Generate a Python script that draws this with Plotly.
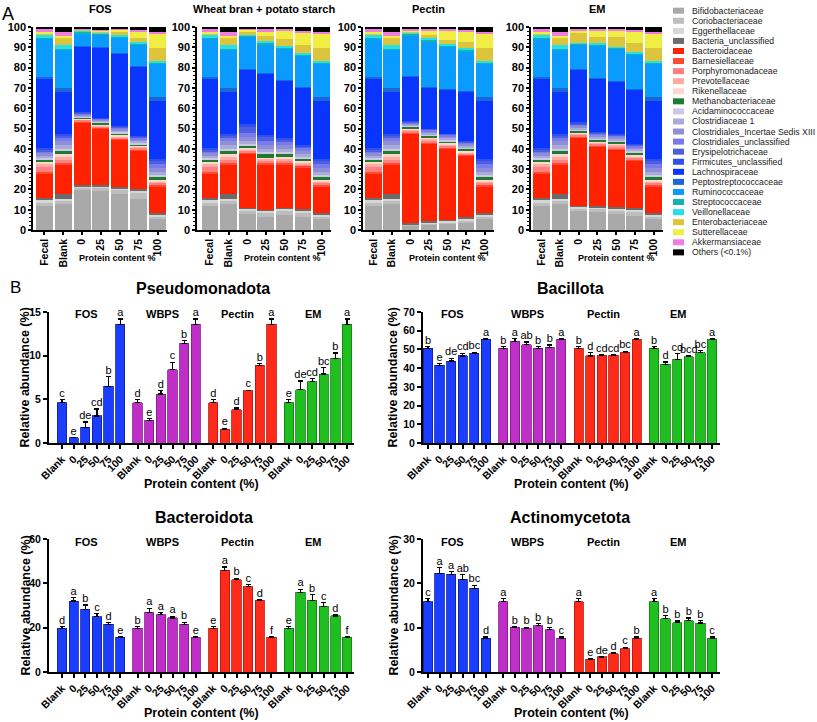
import plotly.graph_objects as go

W, H = 817, 722
FONT = "Liberation Sans, Arial, sans-serif"

# ---------------- Panel A data ----------------
FAMILIES = [
    "Bifidobacteriaceae", "Coriobacteriaceae", "Eggerthellaceae", "Bacteria_unclassified",
    "Bacteroidaceae", "Barnesiellaceae", "Porphyromonadaceae", "Prevotellaceae",
    "Rikenellaceae", "Methanobacteriaceae", "Acidaminococcaceae", "Clostridiaceae 1",
    "Clostridiales_Incertae Sedis XIII", "Clostridiales_unclassified", "Erysipelotrichaceae",
    "Firmicutes_unclassified", "Lachnospiraceae", "Peptostreptococcaceae", "Ruminococcaceae",
    "Streptococcaceae", "Veillonellaceae", "Enterobacteriaceae", "Sutterellaceae",
    "Akkermansiaceae", "Others (<0.1%)",
]
FAMILY_COLORS = [
    "#a9a9a9", "#bdbdbd", "#d6d6d6", "#6b6b6b",
    "#ff2200", "#ff4a33", "#ff8080", "#ffaba0",
    "#ffd6cc", "#1e7b2e", "#c9c9e6", "#aaaadc",
    "#8f8fd6", "#7a7af0", "#4d5fdc", "#3050ee",
    "#0a35ff", "#1b67d8", "#0a9bff", "#12b3b0",
    "#25e0e6", "#dcc43c", "#f0ee44", "#f07ee0", "#000000",
]
A_CATEGORIES = ["Fecal", "Blank", "0", "25", "50", "75", "100"]
A_TITLES = ["FOS", "Wheat bran + potato starch", "Pectin", "EM"]

FECAL = [12.0, 1.5, 1.3, 1.0, 12.2, 0.5, 2.3, 1.7, 1.0, 0.8, 1.0, 1.2, 1.3, 1.0, 0.8, 0.6,
         34.3, 0.8, 18.9, 0.5, 1.6, 0.4, 0.8, 1.3, 1.2]
BLANK = [12.8, 1.5, 1.0, 2.3, 14.8, 0.6, 1.7, 1.3, 1.2, 1.6, 1.2, 1.8, 2.0, 1.6, 1.0, 0.8,
         20.8, 1.8, 19.2, 0.4, 1.6, 3.5, 1.3, 1.8, 2.4]
P100 = [5.5, 1.2, 0.8, 1.0, 13.0, 0.5, 1.2, 0.8, 0.7, 1.8, 0.8, 1.5, 1.8, 1.7, 1.5, 1.2,
        28.5, 2.0, 16.5, 0.3, 1.2, 6.0, 7.5, 0.7, 2.3]
FOS_0 = [19.5, 1.2, 0.8, 0.5, 31.0, 0.4, 0.8, 0.4, 0.3, 0.6, 0.5, 0.6, 0.5, 0.4, 0.3, 0.2,
         32.5, 0.3, 6.2, 0.3, 1.2, 0.2, 0.3, 0.3, 0.7]
FOS_25 = [19.0, 1.5, 1.0, 0.5, 28.0, 0.4, 0.8, 0.4, 0.3, 0.9, 0.5, 0.5, 0.5, 0.4, 0.2, 0.1,
          35.0, 0.3, 6.2, 0.3, 0.7, 0.3, 0.5, 0.4, 1.3]
FOS_50 = [17.5, 2.0, 1.0, 0.5, 23.5, 0.4, 0.9, 0.5, 0.4, 1.0, 0.6, 0.8, 0.8, 0.6, 0.3, 0.2,
          36.0, 0.3, 7.7, 0.3, 0.7, 1.5, 1.5, 0.2, 0.8]
FOS_75 = [15.5, 2.5, 1.5, 0.5, 19.0, 0.4, 1.0, 0.6, 0.5, 0.8, 0.6, 0.9, 1.0, 0.8, 0.5, 0.4,
          34.0, 0.5, 10.5, 0.3, 0.7, 2.0, 3.5, 0.4, 1.6]
WBPS_0 = [8.0, 1.5, 1.0, 0.5, 26.5, 0.5, 1.0, 0.6, 0.6, 1.3, 1.0, 1.5, 2.0, 2.0, 2.5, 1.5,
          27.0, 0.5, 16.0, 0.3, 0.5, 1.0, 1.5, 0.2, 1.0]
WBPS_25 = [6.5, 2.0, 1.0, 0.5, 22.5, 0.5, 1.2, 0.8, 0.7, 1.5, 1.0, 1.5, 2.0, 2.0, 2.0, 1.3,
           30.0, 0.5, 14.0, 0.7, 0.8, 2.5, 2.5, 0.8, 1.2]
WBPS_50 = [7.5, 2.0, 1.0, 0.5, 21.5, 0.5, 1.2, 0.9, 0.7, 1.7, 1.0, 1.5, 1.8, 1.5, 1.3, 0.9,
           28.0, 0.5, 15.5, 0.3, 0.7, 3.5, 4.5, 0.3, 1.2]
WBPS_75 = [6.5, 2.0, 1.0, 0.7, 20.8, 0.5, 1.0, 0.6, 0.7, 1.5, 0.9, 1.3, 1.5, 1.3, 1.0, 0.7,
           28.0, 0.5, 15.5, 0.3, 0.7, 4.0, 6.5, 0.7, 1.8]
PECTIN_0 = [2.0, 0.5, 0.3, 0.5, 44.2, 0.5, 0.9, 0.5, 0.4, 1.0, 0.6, 0.6, 0.5, 0.5, 0.3, 0.2,
            22.0, 0.5, 20.0, 0.6, 0.6, 0.5, 0.8, 0.5, 1.0]
PECTIN_25 = [2.5, 0.6, 0.4, 0.8, 38.2, 0.5, 1.2, 0.7, 0.6, 1.0, 0.6, 0.8, 0.8, 0.7, 0.4, 0.2,
             20.0, 0.5, 22.5, 0.5, 1.0, 1.5, 2.5, 0.5, 1.0]
PECTIN_50 = [3.0, 0.9, 0.6, 0.5, 35.0, 0.5, 1.0, 0.6, 0.6, 1.1, 0.7, 0.9, 0.8, 0.7, 0.4, 0.2,
             21.5, 0.5, 21.0, 0.5, 0.8, 1.7, 5.0, 0.5, 1.0]
PECTIN_75 = [3.5, 1.2, 0.8, 0.7, 30.3, 0.5, 0.9, 0.5, 0.5, 1.1, 0.7, 0.9, 0.9, 0.8, 0.4, 0.3,
             24.0, 0.5, 19.5, 0.5, 1.0, 3.0, 5.5, 0.5, 1.5]
EM_0 = [9.5, 1.2, 0.8, 0.5, 33.5, 0.5, 1.0, 0.5, 0.5, 1.0, 0.7, 0.9, 0.9, 0.7, 0.5, 0.3,
        26.0, 0.5, 12.0, 0.3, 0.5, 4.7, 1.5, 0.5, 1.0]
EM_25 = [9.0, 1.3, 1.0, 0.7, 29.0, 0.5, 1.0, 0.6, 0.7, 0.7, 0.7, 0.9, 0.9, 0.7, 0.5, 0.3,
         26.0, 0.5, 16.0, 0.3, 0.7, 3.0, 3.5, 0.5, 1.0]
EM_50 = [8.0, 1.5, 1.0, 0.8, 28.2, 0.5, 1.2, 0.7, 0.6, 1.0, 0.7, 0.9, 0.9, 0.7, 0.5, 0.3,
         25.5, 0.5, 16.0, 0.3, 0.5, 4.7, 3.5, 0.5, 1.0]
EM_75 = [7.0, 2.0, 1.3, 0.7, 23.0, 0.5, 1.2, 0.6, 0.7, 1.0, 0.8, 1.0, 1.0, 0.8, 0.5, 0.4,
         26.5, 0.5, 17.0, 0.3, 0.7, 4.5, 6.0, 0.5, 1.5]

A_PANELS = [
    [FECAL, BLANK, FOS_0, FOS_25, FOS_50, FOS_75, P100],
    [FECAL, BLANK, WBPS_0, WBPS_25, WBPS_50, WBPS_75, P100],
    [FECAL, BLANK, PECTIN_0, PECTIN_25, PECTIN_50, PECTIN_75, P100],
    [FECAL, BLANK, EM_0, EM_25, EM_50, EM_75, P100],
]

# ---------------- Panel B data ----------------
B_LEVELS = ["Blank", "0", "25", "50", "75", "100"]
B_GROUPS = ["FOS", "WBPS", "Pectin", "EM"]
B_GROUP_COLORS = ["#1a3dff", "#bf2fc7", "#ff2a1a", "#1fbf1f"]
B_GROUP_EDGES = ["#0b1f9e", "#7e1b85", "#b3170b", "#0f7d0f"]

PSEUDO_MEAN = [[4.6, 0.6, 1.8, 3.1, 6.5, 13.6],
               [4.6, 2.6, 5.6, 8.4, 11.4, 13.6],
               [4.6, 1.6, 3.8, 6.0, 8.9, 13.6],
               [4.6, 6.1, 7.0, 7.9, 9.7, 13.6]]
PSEUDO_ERR = [[0.4, 0.05, 0.6, 0.8, 1.1, 0.6],
              [0.4, 0.2, 0.4, 0.85, 0.35, 0.6],
              [0.4, 0.1, 0.2, 0.05, 0.2, 0.6],
              [0.4, 1.0, 0.4, 0.7, 0.6, 0.6]]
PSEUDO_SIG = [["c", "e", "de", "cd", "b", "a"],
              ["d", "e", "d", "c", "b", "a"],
              ["d", "e", "d", "c", "b", "a"],
              ["e", "de", "cd", "bc", "b", "a"]]

BACILL_MEAN = [[50.5, 41.5, 43.8, 46.5, 48.0, 55.5],
               [50.5, 54.3, 52.5, 50.7, 51.1, 55.5],
               [50.5, 46.5, 47.0, 47.0, 48.6, 55.5],
               [50.5, 42.0, 44.7, 46.1, 48.2, 55.5]]
BACILL_ERR = [[1.0, 0.8, 1.5, 1.5, 0.5, 0.4],
              [1.0, 1.5, 1.5, 1.0, 1.3, 0.4],
              [1.0, 1.8, 0.4, 0.4, 0.5, 0.4],
              [1.0, 1.3, 3.0, 0.5, 1.3, 0.4]]
BACILL_SIG = [["b", "e", "de", "cd", "bc", "a"],
              ["b", "a", "ab", "b", "b", "a"],
              ["b", "d", "cd", "cd", "bc", "a"],
              ["b", "d", "cd", "bcd", "bc", "a"]]

BACTER_MEAN = [[19.8, 32.0, 28.2, 25.0, 21.6, 15.7],
               [19.8, 27.0, 25.8, 24.4, 21.6, 15.7],
               [19.8, 45.9, 41.6, 38.5, 32.3, 15.7],
               [19.8, 35.9, 32.4, 29.7, 25.3, 15.7]]
BACTER_ERR = [[0.6, 1.5, 2.0, 1.3, 0.8, 0.2],
              [0.6, 1.8, 0.9, 0.8, 0.9, 0.2],
              [0.6, 1.5, 0.7, 0.8, 0.3, 0.2],
              [0.6, 1.5, 2.5, 1.5, 0.7, 0.2]]
BACTER_SIG = [["d", "a", "b", "c", "d", "e"],
              ["b", "a", "a", "a", "b", "e"],
              ["e", "a", "b", "c", "d", "f"],
              ["e", "a", "b", "c", "d", "f"]]

ACTINO_MEAN = [[15.9, 22.3, 22.0, 20.9, 18.9, 7.6],
               [15.9, 10.15, 9.9, 10.4, 9.5, 7.6],
               [15.9, 2.9, 3.4, 4.1, 5.3, 7.6],
               [15.9, 12.0, 11.1, 11.6, 11.05, 7.6]]
ACTINO_ERR = [[0.6, 1.2, 0.7, 1.1, 0.7, 0.3],
              [0.6, 0.15, 0.2, 0.5, 0.6, 0.3],
              [0.6, 0.15, 0.15, 0.3, 0.3, 0.3],
              [0.6, 0.8, 0.4, 0.6, 0.6, 0.3]]
ACTINO_SIG = [["c", "a", "a", "ab", "bc", "d"],
              ["a", "b", "b", "b", "b", "c"],
              ["a", "e", "de", "d", "c", "b"],
              ["a", "b", "b", "b", "b", "c"]]


def fx(px):
    return px / W


def fy(py):
    return 1 - py / H


fig = go.Figure()
layout = dict(
    template="none",
    width=W, height=H, autosize=False,
    margin=dict(l=0, r=0, t=0, b=0, pad=0),
    paper_bgcolor="white", plot_bgcolor="white",
    barmode="stack", bargap=0.1, showlegend=False,
    font=dict(family=FONT, color="black"),
)
annotations = []
shapes = []

# ---------------- Panel A ----------------
A_XDOM = [(33, 167, -0.6), (197, 331, -0.7), (363, 494, -0.55), (531, 663, -0.55)]
A_XTITLE_X = [118, 282, 447, 616]
for p in range(4):
    n = p + 1
    samples = A_PANELS[p]
    for f in range(len(FAMILIES)):
        fig.add_trace(go.Bar(
            x=A_CATEGORIES, y=[s[f] for s in samples], name=FAMILIES[f],
            marker=dict(color=FAMILY_COLORS[f], line=dict(width=0)),
            xaxis=f"x{n}", yaxis=f"y{n}",
        ))
    x0, x1, r0 = A_XDOM[p]
    layout[f"xaxis{n}"] = dict(
        domain=[fx(x0), fx(x1)], anchor=f"y{n}", type="category", automargin=False,
        range=[r0, 6.5], showline=True, linecolor="black", linewidth=1.5,
        ticks="outside", ticklen=3, tickwidth=1.5, tickcolor="black", tickangle=-90,
        tickfont=dict(size=10.5, weight="bold"), showgrid=False, zeroline=False,
    )
    layout[f"yaxis{n}"] = dict(
        domain=[fy(230), fy(27)], anchor=f"x{n}", range=[0, 100], dtick=10,
        automargin=False,
        showline=True, linecolor="black", linewidth=1.5,
        ticks="outside", ticklen=3, tickwidth=1.5, tickcolor="black",
        minor=dict(dtick=2, ticks="outside", ticklen=2, tickwidth=1, tickcolor="black"),
        tickfont=dict(size=11, weight="bold"), showgrid=False, zeroline=False,
    )
    annotations.append(dict(
        x=fx((x0 + x1) / 2), y=fy(9), xref="paper", yref="paper",
        text=A_TITLES[p], showarrow=False, xanchor="center", yanchor="middle",
        font=dict(size=11, weight="bold"),
    ))
    annotations.append(dict(
        x=fx(A_XTITLE_X[p]), y=fy(258), xref="paper", yref="paper",
        text="Protein content %", showarrow=False, xanchor="center", yanchor="middle",
        font=dict(size=9, weight="bold"),
    ))

# Legend (drawn manually)
for i, (name, col) in enumerate(zip(FAMILIES, FAMILY_COLORS)):
    yc = 10.7 + i * 10.07
    shapes.append(dict(type="rect", xref="paper", yref="paper",
                       x0=fx(673), x1=fx(684), y0=fy(yc + 3), y1=fy(yc - 3),
                       fillcolor=col, line=dict(width=0)))
    annotations.append(dict(
        x=fx(690), y=fy(yc), xref="paper", yref="paper", text=name,
        showarrow=False, xanchor="left", yanchor="middle",
        font=dict(size=8.7, color="#1a1a1a"),
    ))

annotations.append(dict(x=fx(8), y=fy(14), xref="paper", yref="paper", text="A",
                        showarrow=False, xanchor="center", yanchor="middle",
                        font=dict(size=18)))
annotations.append(dict(x=fx(16), y=fy(287), xref="paper", yref="paper", text="B",
                        showarrow=False, xanchor="center", yanchor="middle",
                        font=dict(size=17)))

# ---------------- Panel B ----------------
GROUP_STEP = 6.5
B_PLOTS = [
    dict(title="Pseudomonadota", mean=PSEUDO_MEAN, err=PSEUDO_ERR, sig=PSEUDO_SIG,
         yr=15, ticks=[0, 5, 10, 15], xd=(49, 354), xr=(-1.12, 25.1), yd=(443, 312),
         tx=203, ty=288, ytx=25, xty=484, gly=314),
    dict(title="Bacillota", mean=BACILL_MEAN, err=BACILL_ERR, sig=BACILL_SIG,
         yr=70, ticks=[0, 10, 20, 30, 40, 50, 60, 70], xd=(423, 720), xr=(-0.43, 25.19),
         yd=(443, 312), tx=570, ty=288, ytx=393, xty=484, gly=314),
    dict(title="Bacteroidota", mean=BACTER_MEAN, err=BACTER_ERR, sig=BACTER_SIG,
         yr=60, ticks=[0, 20, 40, 60], xd=(49, 354), xr=(-1.12, 25.1), yd=(672, 539),
         tx=204, ty=517, ytx=25, xty=713, gly=542),
    dict(title="Actinomycetota", mean=ACTINO_MEAN, err=ACTINO_ERR, sig=ACTINO_SIG,
         yr=30, ticks=[0, 10, 20, 30], xd=(423, 720), xr=(-0.43, 25.19), yd=(672, 539),
         tx=570, ty=517, ytx=393, xty=713, gly=542),
]

tickvals = []
ticktext = []
for g in range(len(B_GROUPS)):
    for i, lv in enumerate(B_LEVELS):
        tickvals.append(g * GROUP_STEP + i)
        ticktext.append(lv)

for k, pl in enumerate(B_PLOTS):
    n = k + 5
    for g, grp in enumerate(B_GROUPS):
        xs = [g * GROUP_STEP + i for i in range(len(B_LEVELS))]
        means = pl["mean"][g]
        errs = pl["err"][g]
        fig.add_trace(go.Bar(
            x=xs, y=means, width=0.8, name=grp,
            marker=dict(color=B_GROUP_COLORS[g], line=dict(color=B_GROUP_EDGES[g], width=0.8)),
            error_y=dict(type="data", array=errs, arrayminus=[0] * len(errs),
                         symmetric=False, color="black", thickness=1.2, width=2.5),
            xaxis=f"x{n}", yaxis=f"y{n}",
        ))
        fig.add_trace(go.Scatter(
            x=xs, y=[m + e for m, e in zip(means, errs)], mode="text",
            text=pl["sig"][g], textposition="top center",
            textfont=dict(size=11, color="black"), cliponaxis=False,
            xaxis=f"x{n}", yaxis=f"y{n}",
        ))
        annotations.append(dict(
            x=g * GROUP_STEP + 2.1, y=fy(pl["gly"]), xref=f"x{n}", yref="paper",
            text=grp, showarrow=False, xanchor="center", yanchor="middle",
            font=dict(size=11, weight="bold"),
        ))
    layout[f"xaxis{n}"] = dict(
        domain=[fx(pl["xd"][0]), fx(pl["xd"][1])], anchor=f"y{n}", automargin=False,
        range=list(pl["xr"]), tickmode="array", tickvals=tickvals, ticktext=ticktext,
        showline=True, linecolor="black", linewidth=2, ticks="outside", ticklen=4,
        tickwidth=1.5, tickcolor="black", tickangle=-45,
        tickfont=dict(size=10.5, weight="bold"),
        showgrid=False, zeroline=False,
    )
    layout[f"yaxis{n}"] = dict(
        domain=[fy(pl["yd"][0]), fy(pl["yd"][1])], anchor=f"x{n}", automargin=False,
        range=[0, pl["yr"]], tickmode="array", tickvals=pl["ticks"],
        showline=True, linecolor="black", linewidth=2, ticks="outside", ticklen=4,
        tickwidth=1.5, tickcolor="black", tickfont=dict(size=10.5, weight="bold"),
        showgrid=False, zeroline=False,
    )
    annotations.append(dict(
        x=fx(pl["tx"]), y=fy(pl["ty"]), xref="paper", yref="paper", text=pl["title"],
        showarrow=False, xanchor="center", yanchor="middle",
        font=dict(size=16, weight="bold"),
    ))
    annotations.append(dict(
        x=fx(pl["ytx"]), y=fy((pl["yd"][0] + pl["yd"][1]) / 2), xref="paper", yref="paper",
        text="Relative abundance (%)", textangle=-90, showarrow=False,
        xanchor="center", yanchor="middle", font=dict(size=12.5, weight="bold"),
    ))
    annotations.append(dict(
        x=fx((pl["xd"][0] + pl["xd"][1]) / 2), y=fy(pl["xty"]), xref="paper", yref="paper",
        text="Protein content (%)", showarrow=False,
        xanchor="center", yanchor="middle", font=dict(size=12.5, weight="bold"),
    ))

layout["annotations"] = annotations
layout["shapes"] = shapes
fig.update_layout(**layout)
fig.write_html(
    "out.html",
    config={"displayModeBar": False},
    post_script="document.body.style.margin='0px';document.body.style.padding='0px';",
)
